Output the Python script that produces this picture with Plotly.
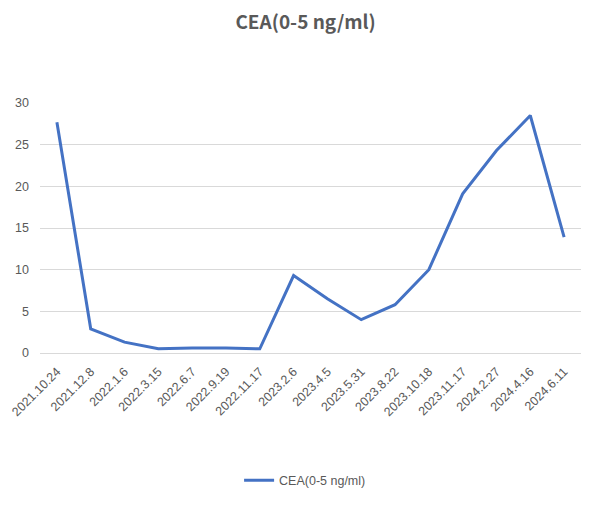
import plotly.graph_objects as go

# test dates and CEA readings (ng/ml)
dates = ['2021.10.24', '2021.12.8', '2022.1.6', '2022.3.15', '2022.6.7',
         '2022.9.19', '2022.11.17', '2023.2.6', '2023.4.5', '2023.5.31',
         '2023.8.22', '2023.10.18', '2023.11.17', '2024.2.27', '2024.4.16',
         '2024.6.11']
cea = [27.7, 2.9, 1.3, 0.5, 0.6, 0.6, 0.5, 9.3, 6.5, 4.0,
       5.8, 10.0, 19.1, 24.3, 28.5, 13.9]
y_ticks = [0, 5, 10, 15, 20, 25, 30]

FONT = 'Noto Sans CJK SC, Noto Sans, sans-serif'
TICK_FONT = 'Liberation Sans, Arial, sans-serif'
GREY = '#595959'

fig = go.Figure(go.Scatter(
    x=dates,
    y=cea,
    mode='lines',
    name='CEA(0-5 ng/ml)',
    line=dict(color='#4472C4', width=3)
))

# page body adds an 8px offset, so margins are shifted up/left by 8px
fig.update_layout(
    width=611,
    height=528,
    paper_bgcolor='white',
    plot_bgcolor='white',
    margin=dict(l=32, r=38, t=95, b=183),
    font=dict(family=FONT, color=GREY, size=12),
    title=dict(
        text='<b>CEA(0-5 ng/ml)</b>',
        x=0.487, xanchor='center',
        y=0.973, yanchor='middle',
        font=dict(size=19, color=GREY, family=FONT)
    ),
    showlegend=True,
    legend=dict(
        orientation='h',
        x=0.49, xanchor='center',
        y=-0.51, yanchor='middle',
        font=dict(size=12.5, color=GREY, family=TICK_FONT),
        itemwidth=30
    ),
    xaxis=dict(
        type='category',
        tickangle=-45,
        showgrid=False,
        showline=False,
        ticks='',
        automargin=False,
        ticklabelstandoff=8,
        tickfont=dict(size=12.5, color=GREY, family=TICK_FONT),
        range=[-0.5, len(dates) - 0.5]
    ),
    yaxis=dict(
        range=[0, 30],
        tickvals=y_ticks,
        showgrid=True,
        gridcolor='#D9D9D9',
        gridwidth=1,
        zeroline=True,
        zerolinecolor='#D9D9D9',
        zerolinewidth=1,
        ticks='',
        automargin=False,
        ticklabelstandoff=10,
        tickfont=dict(size=12.5, color=GREY, family=TICK_FONT)
    )
)

fig.write_html('out.html')
